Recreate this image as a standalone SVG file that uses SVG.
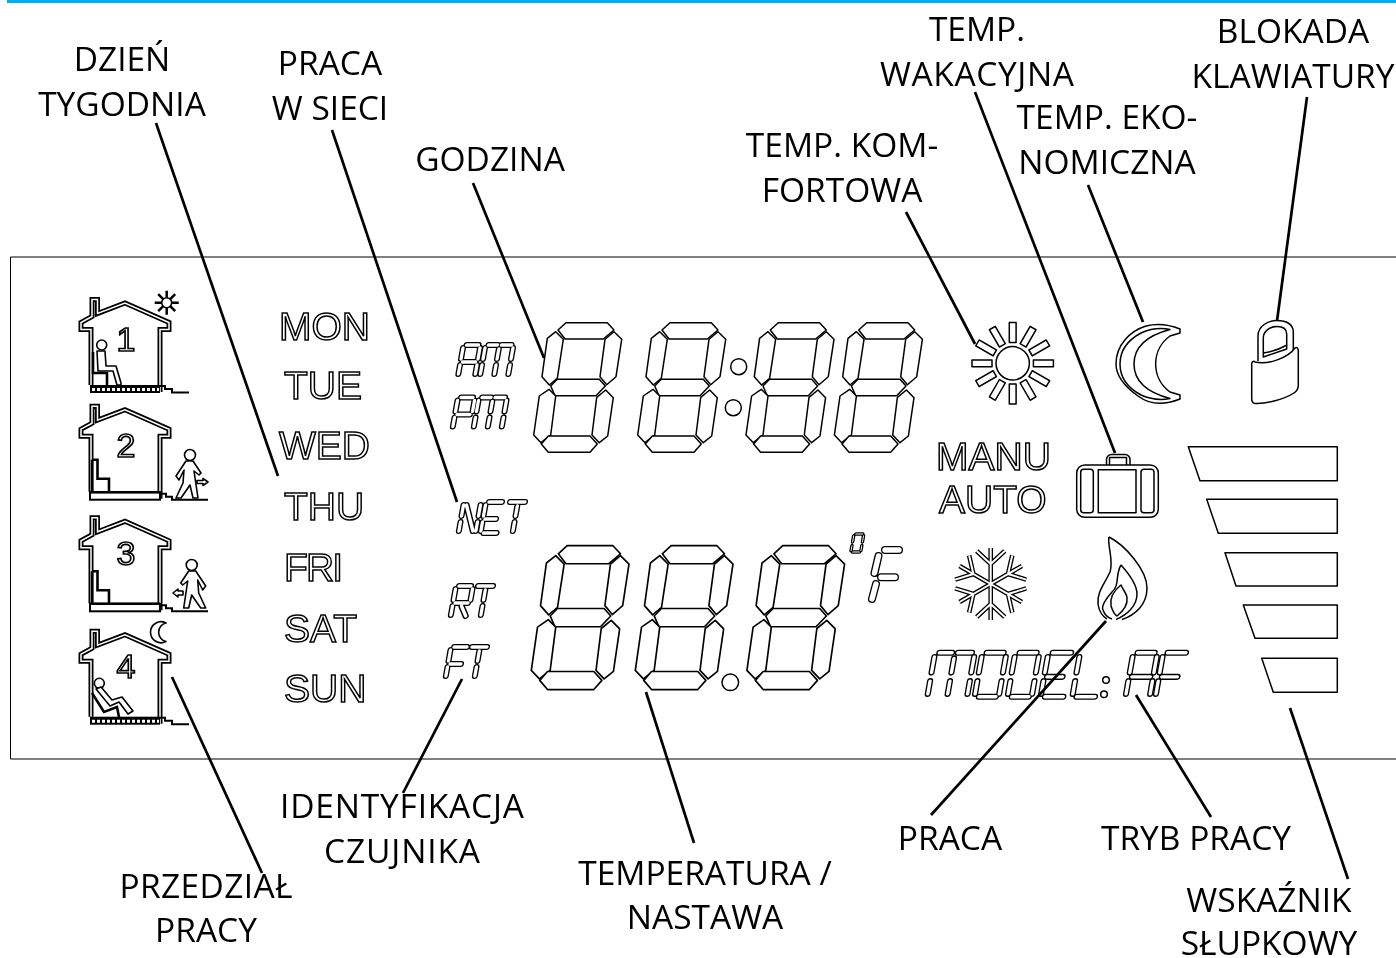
<svg xmlns="http://www.w3.org/2000/svg" width="1396" height="958" viewBox="0 0 1396 958">
<style>
.lab{font-family:"Open Sans","Noto Sans",sans-serif;font-size:33.5px;fill:#000;text-anchor:middle}
.ot{font-family:"Liberation Sans",Arial,sans-serif;fill:#fff;stroke:#000;stroke-width:1.5}
.day{font-size:39px}
.num{font-size:34px;text-anchor:middle;stroke-width:1.7}
.s{fill:#fff;stroke:#000;stroke-width:1.5;stroke-linejoin:round}
.n{fill:none;stroke:#000;stroke-width:1.5;stroke-linejoin:round}
.c{fill:none;stroke:#000;stroke-width:2.7}
.o{fill:none;stroke:#000;stroke-width:6;stroke-linecap:round;stroke-linejoin:round}
.i{fill:none;stroke:#fff;stroke-width:3.3;stroke-linecap:round;stroke-linejoin:round}
.o2{fill:none;stroke:#000;stroke-width:4.3;stroke-linecap:round;stroke-linejoin:round}
.i2{fill:none;stroke:#fff;stroke-width:2.4;stroke-linecap:round;stroke-linejoin:round}
.o3{fill:none;stroke:#000;stroke-width:8;stroke-linecap:round;stroke-linejoin:round}
.i3{fill:none;stroke:#fff;stroke-width:5.4;stroke-linecap:round;stroke-linejoin:round}
.o4{fill:none;stroke:#000;stroke-width:6;stroke-linecap:round;stroke-linejoin:round}
.i4{fill:none;stroke:#fff;stroke-width:1.6;stroke-linecap:round;stroke-linejoin:round}
.fo{fill:none;stroke:#000;stroke-width:5;stroke-linejoin:miter}
.fi{fill:none;stroke:#fff;stroke-width:1.5;stroke-linejoin:miter}
.hair{fill:none;stroke:#000;stroke-width:1}
.th{fill:none;stroke:#000;stroke-width:2.6}
.thin{fill:#fff;stroke:#000;stroke-width:1.6;stroke-linejoin:round}
</style>
<defs>
<filter id="gray" filterUnits="userSpaceOnUse" x="0" y="0" width="1396" height="958"><feOffset dx="0" dy="0"/></filter>
<g id="d">
<polygon class="s" points="566,322.7 607.3,322.7 614,330 603.3,339 565,339 558,330"/>
<polygon class="s" points="555.7,331.7 563.3,339.3 557.3,378.3 549.3,385 542,376.7 547.3,338.3"/>
<polygon class="s" points="614,331.7 621.7,339.3 616,376.7 606.7,384.7 600,376.7 605,339.3"/>
<polygon class="s" points="557.3,379.3 599.3,379.3 605.3,386 596,395.7 555,395.7 550.7,386"/>
<polygon class="s" points="549,389.3 555.7,396 550.7,435 541,442.7 533.7,435 539.3,396"/>
<polygon class="s" points="605.7,390 613.3,397.7 607.7,436 599.3,442.7 592,435 596.7,397.3"/>
<polygon class="s" points="548.3,436 590,436 597.3,444 590,452.3 548.3,452.3 541.3,444"/>
</g>
<path id="gA" d="M3 0H15M0 3V14M17 3V14M2 17H15M0 20V29M17 20V29"/>
<path id="gM" d="M3 0H12M16 0H26M0 3V14M14 4V14M28 3V14M0 20V29M14 20V29M28 20V29"/>
<path id="gP" d="M3 0H15M0 3V14M17 3V14M2 17H15M0 20V29"/>
<path id="gN" d="M0 3V14M0 20V29M17 3V14M17 20V29M3 3L14 29"/>
<path id="gE" d="M3 0H16M0 3V14M2 17H13M0 20V29M3 31H16"/>
<path id="gT" d="M0 0H15M8 4V14M8 20V29"/>
<path id="gR" d="M3 0H15M0 3V14M17 3V14M2 17H15M0 20V29M9 20L15 30"/>
<path id="gF" d="M3 0H16M0 3V14M2 17H13M0 20V29"/>
<path id="gO" d="M3 0H15M0 3V14M17 3V14M0 20V29M17 20V29M3 31H15"/>
<path id="gL" d="M0 3V14M0 20V29M3 31H16"/>
<g id="am"><use href="#gA" transform="translate(463.5,345) skewX(-10)"/><use href="#gM" transform="translate(485.5,345) skewX(-10)"/></g>
<g id="pm"><use href="#gP" transform="translate(458,397.5) skewX(-10)"/><use href="#gM" transform="translate(479,397.5) skewX(-10)"/></g>
<g id="net"><use href="#gN" transform="translate(464,502) skewX(-10)"/><use href="#gE" transform="translate(486,502) skewX(-10)"/><use href="#gT" transform="translate(510,502) skewX(-10)"/></g>
<g id="rt"><use href="#gR" transform="translate(456,586) skewX(-10)"/><use href="#gT" transform="translate(478,586) skewX(-10)"/></g>
<g id="ft"><use href="#gF" transform="translate(451,647) skewX(-10)"/><use href="#gT" transform="translate(472,647) skewX(-10)"/></g>
<g id="model" transform="translate(0,652.7) scale(1.42)">
<use href="#gM" transform="translate(658.5,0) skewX(-10)"/><use href="#gO" transform="translate(691.8,0) skewX(-10)"/><use href="#gO" transform="translate(715,0) skewX(-10)"/><use href="#gE" transform="translate(738.3,0) skewX(-10)"/><use href="#gL" transform="translate(760.6,0) skewX(-10)"/><use href="#gA" transform="translate(798.1,0) skewX(-10)"/><use href="#gF" transform="translate(819.2,0) skewX(-10)"/>
</g>
<path id="bigF" d="M885,550H899M878.5,556L874.5,573M881,577.3H895M876,584L872,599"/>
<rect id="ray" x="-3.4" y="-40.7" width="6.8" height="20" class="s"/>
<g id="arm"><path d="M0,0V-36M0,-20L-14,-33M0,-20L14,-33"/></g>
<g id="flake"><use href="#arm"/><use href="#arm" transform="rotate(60)"/><use href="#arm" transform="rotate(120)"/><use href="#arm" transform="rotate(180)"/><use href="#arm" transform="rotate(240)"/><use href="#arm" transform="rotate(300)"/></g>
<path id="shell" d="M91,385V329.5H81V322.5L92,316.5V299.5H97.5V313.5L125,303L169,322.5V329.5H160V392"/>
<g id="floorA"><rect x="90" y="385" width="70" height="8" fill="#000"/><path d="M92,389.5H159" stroke="#fff" stroke-width="3" stroke-dasharray="3 2" fill="none"/><path d="M160,386H165V389H172V392.5H189" fill="#fff" stroke="#000" stroke-width="2"/></g>
<g id="floorB"><rect x="90" y="385.5" width="70" height="7.5" fill="#fff" stroke="#000" stroke-width="2"/><path d="M90,385.5H160" class="th"/><path d="M92,353V385M92,353H97.5V372H109V385" class="th"/><path d="M160,387H166V390H172V393H208" fill="#fff" stroke="#000" stroke-width="2"/></g>
<g id="walker"><circle cx="190" cy="455" r="5.5" class="thin"/><path class="thin" d="M186,461L176,476L179,480L184,470L183,483L176,498L181,498L190,485L193,498L198,498L194,471L199,475L201,473L193,461Z"/></g>
</defs>
<rect x="0" y="0" width="1396" height="958" fill="#fff"/>
<rect id="topbar" x="7" y="0" width="1389" height="3" fill="#00aeef"/>
<g id="panel"><path d="M1396,257H10.5V759H1396" class="hair"/></g>

<g id="house1">
<use href="#shell" class="fo"/><use href="#shell" class="fi"/><use href="#floorA"/>
<g transform="translate(166.7,302.7)" stroke="#000" stroke-width="2.5"><path d="M0,-12V12M-12,0H12M-8.5,-8.5L8.5,8.5M-8.5,8.5L8.5,-8.5"/><circle r="5" fill="#fff" stroke-width="1.6"/></g>
<circle cx="101.7" cy="345" r="5" class="thin"/>
<path class="thin" d="M97,351H105L106,366H116L121,383V385H117L113,371H98Z"/>
<path class="th" d="M93,352V373H107V385" stroke-width="2"/>
<text class="ot num" filter="url(#gray)" x="126" y="351">1</text>
</g>
<g id="house2" >
<g transform="translate(0,106.7)"><use href="#shell" class="fo"/><use href="#shell" class="fi"/><use href="#floorB"/></g>
<use href="#walker"/>
<path class="thin" stroke-width="1.2" d="M197,480.5H203V478.5L208,482L203,485.5V483.5H197Z"/>
<text class="ot num" filter="url(#gray)" x="126" y="457">2</text>
</g>
<g id="house3">
<g transform="translate(0,218.3)"><use href="#shell" class="fo"/><use href="#shell" class="fi"/><use href="#floorB"/></g>
<use href="#walker" transform="translate(381.7,110) scale(-1,1)"/>
<path class="thin" d="M183,591H178V589L173,593L178,597V595H183Z"/>
<text class="ot num" filter="url(#gray)" x="126" y="565">3</text>
</g>
<g id="house4">
<g transform="translate(0,331.7)"><use href="#shell" class="fo"/><use href="#shell" class="fi"/><use href="#floorA"/></g>
<path class="thin" d="M166,623A10.5,10.5 0 1 0 166,641.5A9.5,9.5 0 0 1 166,623Z"/>
<circle cx="99.3" cy="683.3" r="5" class="thin"/>
<path class="thin" d="M96,689L101,687L112,700L122,697L133,711L128,714L119,702L110,706Z"/>
<path class="th" stroke-width="2" d="M92,693L104,712L117,707L119,717"/>
<text class="ot num" filter="url(#gray)" x="126" y="678">4</text>
</g>

<g id="days" class="ot day" filter="url(#gray)">
<text x="279" y="340">MON</text>
<text x="284" y="399">TUE</text>
<text x="279" y="459">WED</text>
<text x="284" y="520">THU</text>
<text x="284" y="581" textLength="59">FRI</text>
<text x="284" y="642">SAT</text>
<text x="284" y="702">SUN</text>
</g>

<g id="ampm"><use href="#am" class="o"/><use href="#am" class="i"/><use href="#pm" class="o"/><use href="#pm" class="i"/></g>
<g id="net-label"><use href="#net" class="o"/><use href="#net" class="i"/></g>
<g id="rt-label"><use href="#rt" class="o"/><use href="#rt" class="i"/></g>
<g id="ft-label"><use href="#ft" class="o"/><use href="#ft" class="i"/></g>

<g id="clock">
<use href="#d"/><use href="#d" transform="translate(104,0)"/><use href="#d" transform="translate(212.3,0)"/><use href="#d" transform="translate(300.7,0)"/>
<circle cx="738.7" cy="366.7" r="8" class="s"/><circle cx="733.3" cy="407.7" r="8" class="s"/>
</g>
<g id="temperature">
<use href="#d" transform="translate(-61.1,187.5) scale(1.11)"/>
<use href="#d" transform="translate(42.9,187.5) scale(1.11)"/>
<use href="#d" transform="translate(154.5,187.5) scale(1.11)"/>
<circle cx="730.3" cy="682.3" r="8.3" class="s"/>
</g>
<g id="degree-f">
<use href="#gO" transform="translate(854,534) scale(.58) skewX(-10)" class="o4"/><use href="#gO" transform="translate(854,534) scale(.58) skewX(-10)" class="i4"/>
<use href="#bigF" class="o3"/><use href="#bigF" class="i3"/>
</g>

<g id="sun" transform="translate(1012.7,363.3)">
<use href="#ray"/><use href="#ray" transform="rotate(30)"/><use href="#ray" transform="rotate(60)"/><use href="#ray" transform="rotate(90)"/><use href="#ray" transform="rotate(120)"/><use href="#ray" transform="rotate(150)"/><use href="#ray" transform="rotate(180)"/><use href="#ray" transform="rotate(210)"/><use href="#ray" transform="rotate(240)"/><use href="#ray" transform="rotate(270)"/><use href="#ray" transform="rotate(300)"/><use href="#ray" transform="rotate(330)"/>
<circle r="16.7" class="s"/>
</g>
<g id="moon">
<path class="s" d="M1180,329L1180,333L1170,336A34.5,34.5 0 0 0 1170,392L1180,395L1180,399C1165,405 1150,405 1138,396C1124,386 1116,376 1116,364C1116,345 1130,331 1146,326C1158,323 1170,325 1180,329Z"/>
<path class="n" d="M1170,329.5C1160,327.5 1150,329 1141,333C1128,340 1120,351 1120,364C1120,377 1128,388 1141,395C1150,399 1160,400.5 1170,398.5C1153,394 1134,385 1134,364C1134,343 1153,334 1170,329.5Z"/>
</g>
<g id="lock">
<path class="s" d="M1258,361V336C1258,326 1268,320.5 1277,320.5C1286,320.5 1293.3,324 1293.3,332V350"/>
<path class="s" d="M1263.3,357V338C1263.3,331 1270,326.5 1277,326.5C1283,326.5 1286.7,329 1286.7,334V349Z"/>
<path class="n" d="M1263,353C1270,352 1280,349 1287,345"/>
<path class="s" d="M1251.7,364C1251.7,361 1254,361 1255,362C1268,365 1288,358 1295,348C1297,347 1298.3,348 1298.3,351V385C1298.3,389 1297,391 1294,393C1283,400 1265,404 1255,403.5C1252,403.3 1251.7,401 1251.7,398Z"/>
</g>
<g id="mode" class="ot" filter="url(#gray)" style="font-size:39px">
<text x="936" y="470">MANU</text>
<text x="939" y="513">AUTO</text>
</g>
<g id="case">
<rect x="1106.5" y="454.5" width="23.5" height="16" rx="5" class="s"/>
<rect x="1109.5" y="457.5" width="17" height="9" class="s"/>
<rect x="1076.7" y="465" width="81.6" height="52.3" rx="8" class="s"/>
<rect x="1080.7" y="469.3" width="12.6" height="43.4" rx="3" class="s"/>
<rect x="1098.3" y="469.8" width="37.7" height="43" class="s"/>
<rect x="1141" y="469.3" width="13" height="43.4" rx="3" class="s"/>
</g>
<g id="snowflake" transform="translate(990.7,584)"><use href="#flake" class="fo" style="stroke-width:4.6"/><use href="#flake" class="fi" style="stroke-width:2"/></g>
<g id="flame">
<path class="n" d="M1109,537C1125,545 1147,570 1147,588C1147,605 1135,615 1122,619.5"/>
<path class="n" d="M1109,537C1107,545 1114,560 1110,572C1104,585 1097,592 1098,604C1099,611 1102,616 1107,619"/>
<path class="n" d="M1121,565C1130,575 1137,585 1137,594C1137,606 1127,615 1116,619.5"/>
<path class="n" d="M1121,565C1115,575 1120,585 1112,592C1105,600 1101,606 1103,610C1105,616 1109,618 1112,619"/>
<path class="n" d="M1121,585C1112,592 1110,600 1111,606C1113,612 1115,615 1117,616C1122,612 1128,606 1127,598C1127,594 1123,590 1121,585Z"/>
</g>
<g id="model-label">
<use href="#model" class="o2"/><use href="#model" class="i2"/>
<circle cx="1106" cy="680" r="3.3" class="s"/><circle cx="1104" cy="694.3" r="3.3" class="s"/>
</g>
<g id="bars">
<polygon class="s" points="1188.3,446.7 1337.3,446.7 1337.3,480.7 1200,480.7"/>
<polygon class="s" points="1206.7,499.3 1337.3,499.3 1337.3,533.3 1218.3,533.3"/>
<polygon class="s" points="1225,552.7 1337.3,552.7 1337.3,586 1236,586"/>
<polygon class="s" points="1243.3,605 1337.3,605 1337.3,638.3 1255,638.3"/>
<polygon class="s" points="1261.7,658.3 1337.3,658.3 1337.3,692.3 1273.3,692.3"/>
</g>

<g id="connectors">
<line class="c" x1="156" y1="123" x2="278" y2="476"/>
<line class="c" x1="332" y1="130" x2="457" y2="502"/>
<line class="c" x1="473" y1="183" x2="544" y2="358"/>
<line class="c" x1="906" y1="212" x2="975" y2="344"/>
<line class="c" x1="975" y1="92" x2="1115" y2="453"/>
<line class="c" x1="1088" y1="185" x2="1143" y2="322"/>
<line class="c" x1="1307" y1="97" x2="1277" y2="321"/>
<line class="c" x1="172" y1="677" x2="262" y2="873"/>
<line class="c" x1="462" y1="679" x2="403" y2="793"/>
<line class="c" x1="646" y1="692" x2="694" y2="843"/>
<line class="c" x1="1106" y1="621" x2="931" y2="815"/>
<line class="c" x1="1136" y1="695" x2="1211" y2="817"/>
<line class="c" x1="1290" y1="708" x2="1348" y2="879"/>
</g>

<g id="labels" filter="url(#gray)">
<text class="lab" x="122" y="71">DZIEŃ</text><text class="lab" x="122" y="116">TYGODNIA</text>
<text class="lab" x="330" y="75">PRACA</text><text class="lab" x="330" y="120">W SIECI</text>
<text class="lab" x="490" y="171">GODZINA</text>
<text class="lab" x="842" y="157">TEMP. KOM-</text><text class="lab" x="842" y="202">FORTOWA</text>
<text class="lab" x="977" y="41">TEMP.</text><text class="lab" x="977" y="86" textLength="194">WAKACYJNA</text>
<text class="lab" x="1107" y="129">TEMP. EKO-</text><text class="lab" x="1107" y="174">NOMICZNA</text>
<text class="lab" x="1293" y="43">BLOKADA</text><text class="lab" x="1293" y="88">KLAWIATURY</text>
<text class="lab" x="402" y="818" textLength="244">IDENTYFIKACJA</text><text class="lab" x="402" y="863" textLength="156">CZUJNIKA</text>
<text class="lab" x="206" y="898" textLength="173">PRZEDZIAŁ</text><text class="lab" x="206" y="942">PRACY</text>
<text class="lab" x="705" y="885">TEMPERATURA /</text><text class="lab" x="705" y="929">NASTAWA</text>
<text class="lab" x="950" y="850">PRACA</text>
<text class="lab" x="1196" y="850">TRYB PRACY</text>
<text class="lab" x="1269" y="912">WSKAŹNIK</text><text class="lab" x="1269" y="955">SŁUPKOWY</text>
</g>
</svg>
